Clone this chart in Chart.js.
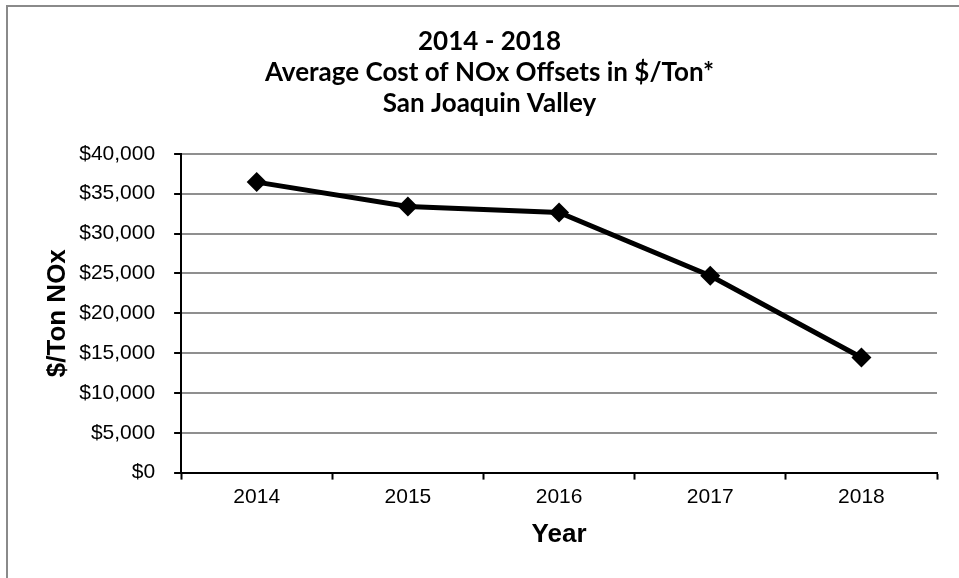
<!DOCTYPE html>
<html>
<head>
<meta charset="utf-8">
<script src="https://cdn.jsdelivr.net/npm/chart.js@4"></script>
<style>
  html, body { margin: 0; padding: 0; background: #fff; }
  #wrap { position: relative; width: 959px; height: 578px; overflow: hidden; }
  #frame { position: absolute; left: 6px; top: 5px; width: 1000px; height: 700px; border: 2px solid #8a8a8a; }
  canvas { position: absolute; left: 0; top: 0; }
</style>
</head>
<body>
<div id="wrap">
  <div id="frame"></div>
  <canvas id="costChart" width="959" height="578"></canvas>
</div>
<script>
const years = ["2014", "2015", "2016", "2017", "2018"];
const costPerTon = [36450, 33400, 32650, 24700, 14450];
const titleLines = ["2014 - 2018", "Average Cost of NOx Offsets in $/Ton*", "San Joaquin Valley"];
const yTickStep = 5000;
const yMax = 40000;

const ctx = document.getElementById("costChart").getContext("2d");
new Chart(ctx, {
    type: "line",
    data: {
        labels: years,
        datasets: [{
            label: "$/Ton NOx",
            data: costPerTon,
            borderColor: "#000",
            backgroundColor: "#000",
            borderWidth: 5,
            pointStyle: "rectRot",
            pointRadius: 10,
            pointBorderWidth: 0,
            tension: 0,
        }],
    },
    options: {
        responsive: false,
        animation: false,
        layout: { padding: { left: 42, right: 22, top: 26, bottom: 28 } },
        plugins: {
            legend: { display: false },
            tooltip: { enabled: false },
            title: {
                display: true,
                text: titleLines,
                color: "#000",
                font: { family: "Lato", size: 26, weight: "bold", lineHeight: 1.19 },
                padding: { top: 0, bottom: 35 },
            },
        },
        scales: {
            x: {
                offset: true,
                grid: {
                    offset: true,
                    drawOnChartArea: false,
                    tickColor: "#000",
                    tickLength: 7,
                    tickWidth: 2,
                },
                border: { color: "#000", width: 2 },
                ticks: { color: "#000", font: { family: "Liberation Sans", size: 21 }, padding: 5 },
                title: {
                    display: true,
                    text: "Year",
                    color: "#000",
                    font: { family: "Liberation Sans", size: 26, weight: "bold" },
                    padding: { top: 4, bottom: 0 },
                },
            },
            y: {
                min: 0,
                max: yMax,
                grid: {
                    color: "#8f8f8f",
                    lineWidth: 2,
                    tickColor: "#000",
                    tickLength: 7,
                    tickWidth: 2,
                },
                border: { color: "#000", width: 2 },
                ticks: {
                    stepSize: yTickStep,
                    color: "#000",
                    font: { family: "Liberation Sans", size: 21 },
                    padding: 19,
                    callback: (v) => "$" + v.toLocaleString("en-US"),
                },
                title: {
                    display: true,
                    text: "$/Ton NOx",
                    color: "#000",
                    font: { family: "Liberation Sans", size: 26, weight: "bold" },
                    padding: { top: 0, bottom: -13 },
                },
            },
        },
    },
});
</script>
</body>
</html>
